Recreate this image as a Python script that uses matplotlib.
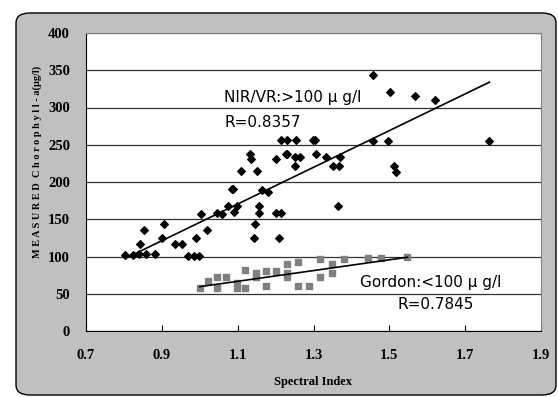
import matplotlib.pyplot as plt
from matplotlib.patches import FancyBboxPatch
import numpy as np

# NIR/VR samples (> 100 ug/l)
nir_x = [0.803, 0.823, 0.841, 0.842, 0.852, 0.858, 0.883, 0.900, 0.907, 0.936,
         0.952, 0.968, 0.986, 0.999, 0.990, 1.003, 1.018, 1.045, 1.059, 1.074,
         1.084, 1.088, 1.091, 1.098, 1.108, 1.132, 1.135, 1.143, 1.145, 1.152,
         1.156, 1.156, 1.165, 1.180, 1.200, 1.200, 1.208, 1.213, 1.213, 1.227,
         1.229, 1.231, 1.250, 1.250, 1.255, 1.265, 1.299, 1.305, 1.306, 1.334,
         1.352, 1.365, 1.367, 1.371, 1.456, 1.456, 1.497, 1.502, 1.513, 1.518,
         1.568, 1.621, 1.764]
nir_y = [102, 102, 104, 117, 135, 103, 104, 125, 144, 117,
         117, 101, 101, 101, 125, 157, 135, 158, 157, 168,
         190, 190, 160, 168, 215, 237, 231, 125, 143, 215,
         168, 158, 189, 187, 231, 158, 125, 158, 257, 237,
         257, 237, 222, 234, 256, 234, 257, 257, 237, 234,
         221, 168, 221, 234, 343, 255, 255, 321, 221, 214,
         316, 310, 255]

# Gordon samples (< 100 ug/l)
gor_x = [1.000, 1.022, 1.046, 1.046, 1.070, 1.097, 1.097, 1.120, 1.120, 1.148,
         1.148, 1.174, 1.174, 1.200, 1.230, 1.230, 1.230, 1.258, 1.258, 1.288,
         1.317, 1.317, 1.348, 1.348, 1.380, 1.444, 1.478, 1.546]
gor_y = [58, 67, 73, 58, 73, 65, 58, 82, 58, 77.5,
         72.5, 80, 61, 80.5, 90.5, 78, 72, 61, 92, 61,
         96, 73, 90, 78, 96, 98, 98, 100]

# trend lines
nir_fit_x = [0.81, 1.764]
nir_fit_y = [99, 334]
gor_fit_x = [1.0, 1.548]
gor_fit_y = [59.5, 99]

xticks = [0.7, 0.9, 1.1, 1.3, 1.5, 1.7, 1.9]
yticks = [0, 50, 100, 150, 200, 250, 300, 350, 400]

fig = plt.figure(figsize=(5.58, 3.97), dpi=100)
bg = FancyBboxPatch((16 / 558, 2 / 397), 540 / 558, 382 / 397,
                    boxstyle="round,pad=0,rounding_size=0.025",
                    transform=fig.transFigure, facecolor='#c0c0c0',
                    edgecolor='black', linewidth=1.0, zorder=-5)
fig.patches.append(bg)

ax = fig.add_axes([86 / 558, 1 - 331 / 397, 455 / 558, 298 / 397])
ax.set_facecolor('white')

ax.scatter(nir_x, nir_y, marker='D', s=15, color='black', zorder=3)
ax.scatter(gor_x, gor_y, marker='s', s=20, color='#808080', zorder=3)
ax.plot(nir_fit_x, nir_fit_y, color='black', lw=1.2, zorder=4)
ax.plot(gor_fit_x, gor_fit_y, color='black', lw=1.2, zorder=4)

ax.set_xlim(0.7, 1.9)
ax.set_ylim(0, 400)
ax.set_xticks(xticks)
ax.set_yticks(yticks)
ax.set_xticklabels(['%.1f' % v for v in xticks])
ax.yaxis.grid(True, color='#333333', lw=0.9)
ax.set_axisbelow(True)

tick_font = dict(family='Liberation Serif', weight='bold', size=10.5)
for lab in ax.get_xticklabels() + ax.get_yticklabels():
    lab.set(**tick_font)
ax.tick_params(axis='x', direction='in', length=4, pad=13, color='black')
ax.tick_params(axis='y', length=0, pad=11.5)

for side in ['top', 'right']:
    ax.spines[side].set_color('#808080')
for side in ['left', 'bottom']:
    ax.spines[side].set_color('black')

ax.set_xlabel('Spectral Index', family='Liberation Serif', weight='bold',
              size=9, labelpad=10)
fig.text(37 / 558, 1 - 162 / 397, 'M E A S U R E D  C h o r o p h y l l - a(μg/l)',
         family='Liberation Serif', weight='bold', size=7.4, rotation=90,
         ha='center', va='center')

txt = dict(family=['Liberation Sans Narrow', 'DejaVu Sans'], size=11,
           ha='center', va='center')
ax.text(1.245, 314, 'NIR/VR:>100 μ g/l', **txt)
ax.text(1.167, 280, 'R=0.8357', **txt)
ax.text(1.61, 65, 'Gordon:<100 μ g/l', **txt)
ax.text(1.622, 36, 'R=0.7845', **txt)

plt.savefig('out.png', dpi=100)
